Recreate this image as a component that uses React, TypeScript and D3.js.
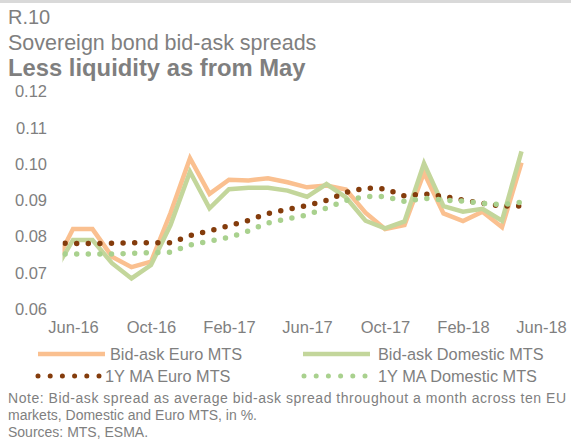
import { useEffect, useRef } from 'react';
import * as d3 from 'd3';

// monthly categories, May-16 .. Jun-18 (no data for Jun-18, it only carries a label)
const months = [
  'May-16', 'Jun-16', 'Jul-16', 'Aug-16', 'Sep-16', 'Oct-16', 'Nov-16', 'Dec-16',
  'Jan-17', 'Feb-17', 'Mar-17', 'Apr-17', 'May-17', 'Jun-17', 'Jul-17', 'Aug-17',
  'Sep-17', 'Oct-17', 'Nov-17', 'Dec-17', 'Jan-18', 'Feb-18', 'Mar-18', 'Apr-18',
  'May-18', 'Jun-18',
];

const tickLabels = ['Jun-16', 'Oct-16', 'Feb-17', 'Jun-17', 'Oct-17', 'Feb-18', 'Jun-18'];
const yTicks = [0.06, 0.07, 0.08, 0.09, 0.1, 0.11, 0.12];

const euroMts = [
  0.0716, 0.0821, 0.0821, 0.0745, 0.0716, 0.0731, 0.0865, 0.1016,
  0.0918, 0.0957, 0.0955, 0.0961, 0.095, 0.0936, 0.0941, 0.093,
  0.0866, 0.0821, 0.0832, 0.0976, 0.0864, 0.0843, 0.0869, 0.0826,
  0.1004,
];

const domesticMts = [
  0.07, 0.0791, 0.0791, 0.0727, 0.0685, 0.0722, 0.0832, 0.0979,
  0.0878, 0.0931, 0.0935, 0.0935, 0.0927, 0.091, 0.0945, 0.0908,
  0.0844, 0.0823, 0.0842, 0.1002, 0.0884, 0.0869, 0.0877, 0.0844,
  0.1035,
];

const maEuroMts = [
  0.0783, 0.0781, 0.0781, 0.0782, 0.0783, 0.0783, 0.0783, 0.0803,
  0.0816, 0.083, 0.0845, 0.0864, 0.0875, 0.0886, 0.09, 0.0922,
  0.0934, 0.0932, 0.0912, 0.0918, 0.0911, 0.0901, 0.0892, 0.0884,
  0.0885,
];

const maDomesticMts = [
  0.0752, 0.0752, 0.0752, 0.0752, 0.0754, 0.0756, 0.0757, 0.0777,
  0.0788, 0.0798, 0.0816, 0.0838, 0.0849, 0.086, 0.0879, 0.09,
  0.0911, 0.0911, 0.0897, 0.0906, 0.0901, 0.0898, 0.0892, 0.0888,
  0.0895,
];

const series = [
  { name: 'Bid-ask Euro MTS', values: euroMts, color: '#FAC090', dotted: false },
  { name: 'Bid-ask Domestic MTS', values: domesticMts, color: '#C3D69B', dotted: false },
  { name: '1Y MA Euro MTS', values: maEuroMts, color: '#843C0C', dotted: true },
  { name: '1Y MA Domestic MTS', values: maDomesticMts, color: '#A9D18E', dotted: true },
];

const noteLines = [
  'Note: Bid-ask spread as average bid-ask spread throughout a month across ten EU',
  'markets, Domestic and Euro MTS, in %.',
  'Sources:  MTS, ESMA.',
];

const WIDTH = 571;
const HEIGHT = 445;
const GREY = '#7F7F7F';
const FONT = '"Liberation Sans", Arial, sans-serif';

export default function App() {
  const svgRef = useRef<SVGSVGElement>(null);

  useEffect(() => {
    if (!svgRef.current) return;
    const svg = d3.select(svgRef.current);
    svg.selectAll('*').remove();

    // header
    svg.append('rect')
      .attr('x', 0).attr('y', 0)
      .attr('width', WIDTH).attr('height', 3)
      .attr('fill', '#D9D9D9');

    const header = [
      { text: 'R.10', y: 23.5, size: 20, weight: 'normal' },
      { text: 'Sovereign bond bid-ask spreads', y: 50, size: 21.5, weight: 'normal' },
      { text: 'Less liquidity as from May', y: 76, size: 23.8, weight: 'bold' },
    ];
    svg.selectAll('.hdr')
      .data(header)
      .enter().append('text')
      .attr('class', 'hdr')
      .attr('x', 8)
      .attr('y', d => d.y)
      .attr('fill', GREY)
      .attr('font-size', d => d.size)
      .attr('font-weight', d => d.weight)
      .text(d => d.text);

    // scales
    const x = d3.scalePoint<string>()
      .domain(months)
      .range([53.5, 541]);

    const y = d3.scaleLinear()
      .domain([0.06, 0.12])
      .range([309.3, 91.5]);

    // y axis labels
    const yAxis = svg.append('g')
      .attr('transform', 'translate(47,0)')
      .call(d3.axisLeft(y).tickValues(yTicks).tickSize(0).tickPadding(0).tickFormat(d3.format('.2f')));
    yAxis.select('.domain').remove();
    yAxis.selectAll('text')
      .attr('fill', GREY)
      .attr('font-size', 16.5)
      .attr('font-family', FONT);

    // x axis labels
    const xAxis = svg.append('g')
      .attr('transform', 'translate(0,321)')
      .call(d3.axisBottom(x).tickValues(tickLabels).tickSize(0).tickPadding(0));
    xAxis.select('.domain').remove();
    xAxis.selectAll('text')
      .attr('fill', GREY)
      .attr('font-size', 16.5)
      .attr('font-family', FONT);

    // plot clip (the first month sits left of the plot area)
    svg.append('clipPath')
      .attr('id', 'plot-clip')
      .append('rect')
      .attr('x', 62.5).attr('y', 80)
      .attr('width', 490).attr('height', 240);

    const line = d3.line<number>()
      .x((d, i) => x(months[i]) || 0)
      .y(d => y(d));

    const plot = svg.append('g').attr('clip-path', 'url(#plot-clip)');

    series.forEach(s => {
      const p = plot.append('path')
        .datum(s.values)
        .attr('fill', 'none')
        .attr('stroke', s.color)
        .attr('d', line);
      if (s.dotted) {
        p.attr('stroke-width', 5.5)
          .attr('stroke-linecap', 'round')
          .attr('stroke-dasharray', '0 11.6');
      } else {
        p.attr('stroke-width', 4.5)
          .attr('stroke-linejoin', 'miter');
      }
    });

    // legend
    const legendItems = [
      { s: series[0], x: 38, y: 354, tx: 110 },
      { s: series[1], x: 303, y: 354, tx: 378 },
      { s: series[2], x: 38, y: 376, tx: 105 },
      { s: series[3], x: 304, y: 376, tx: 378 },
    ];
    const legend = svg.selectAll('.legend')
      .data(legendItems)
      .enter().append('g')
      .attr('class', 'legend');

    legend.append('line')
      .attr('x1', d => d.x)
      .attr('x2', d => (d.s.dotted ? d.x + 61 : d.x + 67))
      .attr('y1', d => d.y).attr('y2', d => d.y)
      .attr('stroke', d => d.s.color)
      .attr('stroke-width', d => (d.s.dotted ? 5 : 4.5))
      .attr('stroke-linecap', d => (d.s.dotted ? 'round' : 'butt'))
      .attr('stroke-dasharray', d => (d.s.dotted ? '0 12.2' : null));

    legend.append('text')
      .attr('x', d => d.tx)
      .attr('y', d => d.y + 6)
      .attr('fill', GREY)
      .attr('font-size', 16.3)
      .text(d => d.s.name);

    // notes
    svg.selectAll('.note')
      .data(noteLines)
      .enter().append('text')
      .attr('class', 'note')
      .attr('x', 8)
      .attr('y', (d, i) => 403 + i * 17)
      .attr('fill', GREY)
      .attr('font-size', 14)
      .attr('textLength', (d, i) => (i === 0 ? 558 : null))
      .attr('lengthAdjust', 'spacing')
      .text(d => d);
  }, []);

  return (
    <svg
      ref={svgRef}
      width={WIDTH}
      height={HEIGHT}
      style={{ position: 'absolute', left: 0, top: 0, fontFamily: FONT, background: '#fff' }}
    />
  );
}
